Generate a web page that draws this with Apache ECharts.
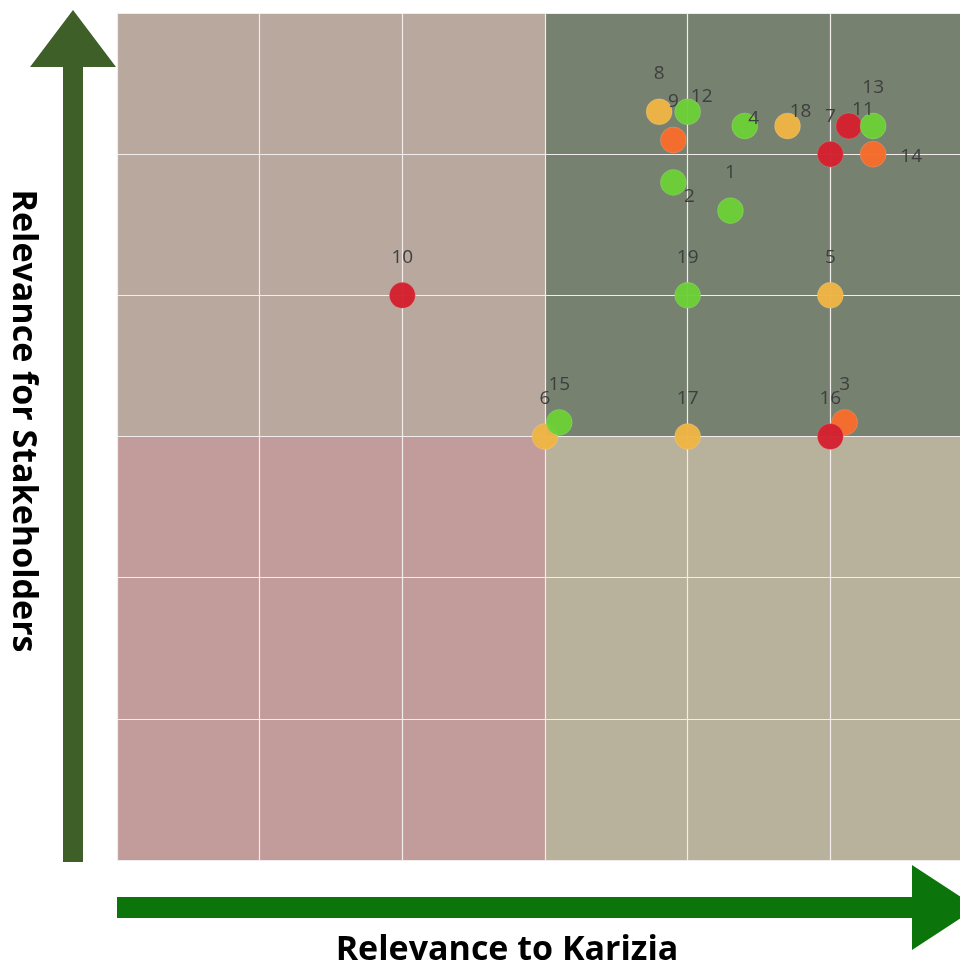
<!DOCTYPE html>
<html>
<head>
<meta charset="utf-8">
<script src="https://cdn.jsdelivr.net/npm/echarts@6/dist/echarts.min.js"></script>
<style>
  html, body { margin: 0; padding: 0; background: #ffffff; overflow: hidden; }
  #chart { width: 1000px; height: 969px; }
</style>
</head>
<body>
<div id="chart"></div>
<script>
// Materiality matrix: topic ids, scores and priority ratings
const topicIds   = [1, 2, 3, 4, 5, 6, 7, 8, 9, 10, 11, 12, 13, 14, 15, 16, 17, 18, 19];
const companyRel = [4.3, 3.9, 5.1, 4.4, 5.0, 3.0, 5.0, 3.8, 3.9, 2.0, 5.13, 4.0, 5.3, 5.3, 3.1, 5.0, 4.0, 4.7, 4.0];
const stakeRel   = [4.6, 4.8, 3.1, 5.2, 4.0, 3.0, 5.0, 5.3, 5.1, 4.0, 5.2, 5.3, 5.2, 5.0, 3.1, 3.0, 3.0, 5.2, 4.0];
const ratings    = ['green', 'green', 'orange', 'green', 'yellow', 'yellow', 'red', 'yellow', 'orange', 'red',
                    'red', 'green', 'green', 'orange', 'green', 'red', 'yellow', 'yellow', 'green'];
const axisTicks  = [0, 1, 2, 3, 4, 5, 6];
const midpoint   = 3;

const ratingColors = {
  green: '#6ccf38',
  yellow: '#eeb545',
  orange: '#f76c2c',
  red: '#d4202e'
};

// label placement relative to the dot centre (default: above)
const labelShift = {
  2: [16, 14],
  4: [9, -7],
  11: [14, -16],
  12: [14, -15],
  14: [38, 2],
  18: [13, -14]
};

const points = topicIds.map((id, i) => ({
  value: [companyRel[i], stakeRel[i]],
  name: String(id),
  itemStyle: { color: ratingColors[ratings[i]] },
  label: { offset: labelShift[id] || [0, -38] }
}));

const lo = axisTicks[0], hi = axisTicks[axisTicks.length - 1];
const quadrantColors = {
  topLeft: '#b8a89e',
  topRight: '#768170',
  bottomLeft: '#c29c9b',
  bottomRight: '#b8b29c'
};

const chart = echarts.init(document.getElementById('chart'), null, { renderer: 'canvas' });

const axisCommon = {
  type: 'value',
  min: lo,
  max: hi,
  interval: 1,
  z: 1.5,
  axisLabel: { show: false },
  axisTick: { show: false },
  axisLine: { show: false },
  splitLine: { show: true, lineStyle: { color: '#f2ecec', width: 1.2 } }
};

chart.setOption({
  animation: false,
  backgroundColor: '#ffffff',
  grid: { left: 117, top: 13, right: 27, bottom: 109, containLabel: false },
  xAxis: axisCommon,
  yAxis: axisCommon,
  series: [
    {
      // quadrant shading
      type: 'scatter',
      z: 0,
      silent: true,
      data: [],
      markArea: {
        silent: true,
        z: 0,
        data: [
          [{ coord: [lo, midpoint], itemStyle: { color: quadrantColors.topLeft } }, { coord: [midpoint, hi] }],
          [{ coord: [midpoint, midpoint], itemStyle: { color: quadrantColors.topRight } }, { coord: [hi, hi] }],
          [{ coord: [lo, lo], itemStyle: { color: quadrantColors.bottomLeft } }, { coord: [midpoint, midpoint] }],
          [{ coord: [midpoint, lo], itemStyle: { color: quadrantColors.bottomRight } }, { coord: [hi, midpoint] }]
        ]
      }
    },
    {
      type: 'scatter',
      z: 3,
      symbol: 'circle',
      symbolSize: 26,
      data: points,
      itemStyle: { opacity: 0.97, borderColor: 'rgba(255,255,255,0.15)', borderWidth: 1 },
      label: {
        show: true,
        position: 'inside',
        formatter: p => p.name,
        color: '#3c3c3c',
        fontFamily: 'Open Sans',
        fontSize: 19
      }
    }
  ],
  graphic: [
    {
      // vertical arrow
      type: 'polygon',
      shape: { points: [[73, 10], [116, 67], [83, 67], [83, 862], [63, 862], [63, 67], [30, 67]] },
      style: { fill: '#3e5f28' }
    },
    {
      // horizontal arrow
      type: 'polygon',
      shape: { points: [[117, 897], [912, 897], [912, 865], [977, 907.5], [912, 950], [912, 918], [117, 918]] },
      style: { fill: '#0b750b' }
    },
    {
      type: 'text',
      x: 507,
      y: 950,
      style: {
        text: 'Relevance to Karizia',
        fill: '#000000',
        font: 'bold 34px "Open Sans"',
        textAlign: 'center',
        textVerticalAlign: 'middle'
      }
    },
    {
      type: 'text',
      x: 23,
      y: 421,
      rotation: -Math.PI / 2,
      style: {
        text: 'Relevance for Stakeholders',
        fill: '#000000',
        font: 'bold 34px "Open Sans"',
        textAlign: 'center',
        textVerticalAlign: 'middle'
      }
    }
  ]
});
</script>
</body>
</html>
